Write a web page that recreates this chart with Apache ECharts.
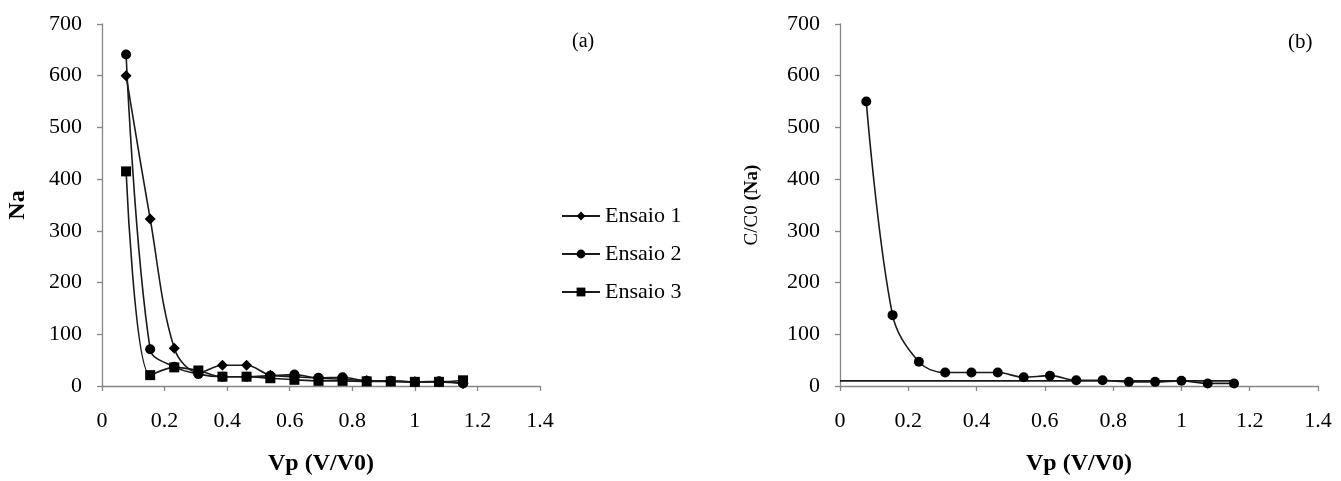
<!DOCTYPE html>
<html>
<head>
<meta charset="utf-8">
<script src="https://cdn.jsdelivr.net/npm/echarts@6/dist/echarts.min.js"></script>
<style>
html,body{margin:0;padding:0;background:#fff;}
#c{width:1341px;height:481px;}
</style>
</head>
<body>
<div id="c"></div>
<script>
// Data
const xVals = [0.077, 0.154, 0.231, 0.308, 0.385, 0.462, 0.538, 0.615, 0.692, 0.769, 0.846, 0.923, 1.0, 1.077, 1.154];
const ensaio1 = [600, 323, 73, 26, 40, 40, 21, 18, 15, 13, 10, 9, 8, 8, 5];
const ensaio2 = [641, 71, 37, 23, 18, 18, 20, 22, 16, 17, 10, 10, 8, 9, 5];
const ensaio3 = [415, 21, 36, 30, 18, 18, 15, 12, 10, 10, 9, 9, 8, 8, 11];
const ccoVals = [550, 137, 47, 26, 26, 26, 17, 20, 11, 11, 8, 8, 10, 5, 5];
const refLineX = [0, 1.154];
const refLineY = [10, 10];
const seriesNames = ['Ensaio 1', 'Ensaio 2', 'Ensaio 3'];
const xTicks = { min: 0, max: 1.4, interval: 0.2 };
const yTicks = { min: 0, max: 700, interval: 100 };

const pairs = (xs, ys) => xs.map((x, i) => [x, ys[i]]);
const FONT = 'Liberation Serif';

function xAxisDef(gridIndex) {
  return {
    type: 'value', gridIndex, min: xTicks.min, max: xTicks.max, interval: xTicks.interval,
    name: 'Vp (V/V0)', nameLocation: 'middle', nameGap: 66,
    nameTextStyle: { fontFamily: FONT, fontSize: 24, fontWeight: 'bold', color: '#000' },
    axisLine: { show: true, onZero: false, lineStyle: { color: '#868686', width: 1.3 } },
    axisTick: { show: true, length: 5, lineStyle: { color: '#868686', width: 1.3 } },
    axisLabel: { fontFamily: FONT, fontSize: 22, color: '#000', margin: 24 },
    splitLine: { show: false }
  };
}
function yAxisDef(gridIndex, name, gap, nameStyle) {
  return {
    type: 'value', gridIndex, min: yTicks.min, max: yTicks.max, interval: yTicks.interval,
    name, nameLocation: 'middle', nameGap: gap, nameRotate: 90,
    nameTextStyle: nameStyle,
    axisLine: { show: true, onZero: false, lineStyle: { color: '#868686', width: 1.3 } },
    axisTick: { show: true, length: 5, lineStyle: { color: '#868686', width: 1.3 } },
    axisLabel: { fontFamily: FONT, fontSize: 22, color: '#000', margin: 20 },
    splitLine: { show: false }
  };
}
const lineStyle = { color: '#1a1a1a', width: 1.6 };
function mkSeries(name, data, symbol, size, xi, yi) {
  return {
    name, type: 'line', xAxisIndex: xi, yAxisIndex: yi, data,
    smooth: 0.35, symbol, symbolSize: size, showSymbol: true,
    itemStyle: { color: '#000' }, lineStyle, animation: false, z: 3
  };
}

const chart = echarts.init(document.getElementById('c'), null, { renderer: 'canvas' });
chart.setOption({
  animation: false,
  backgroundColor: '#fff',
  grid: [
    { left: 102, right: 801, top: 24, bottom: 94 },
    { left: 840, right: 23, top: 24, bottom: 93 }
  ],
  xAxis: [xAxisDef(0), xAxisDef(1)],
  yAxis: [
    yAxisDef(0, 'Na', 72, { fontFamily: FONT, fontSize: 24, fontWeight: 'bold', color: '#000' }),
    yAxisDef(1, '{r|C/C0} {b|(Na)}', 78, {
      fontFamily: FONT, fontSize: 19, color: '#000',
      rich: {
        r: { fontFamily: FONT, fontSize: 19, color: '#000' },
        b: { fontFamily: FONT, fontSize: 19, fontWeight: 'bold', color: '#000' }
      }
    })
  ],
  legend: {
    data: seriesNames, orient: 'vertical', left: 556, top: 200, itemGap: 16,
    itemWidth: 38, itemHeight: 11,
    textStyle: { fontFamily: FONT, fontSize: 22, color: '#000', padding: [0, 0, 0, 0] }
  },
  graphic: [
    { type: 'text', left: 572, top: 32, style: { text: '(a)', font: '20px "Liberation Serif"', fill: '#000' } },
    { type: 'text', left: 1288, top: 32, style: { text: '(b)', font: '21px "Liberation Serif"', fill: '#000' } }
  ],
  series: [
    mkSeries(seriesNames[0], pairs(xVals, ensaio1), 'diamond', 11, 0, 0),
    mkSeries(seriesNames[1], pairs(xVals, ensaio2), 'circle', 10, 0, 0),
    mkSeries(seriesNames[2], pairs(xVals, ensaio3), 'rect', 10, 0, 0),
    mkSeries('C/C0', pairs(xVals, ccoVals), 'circle', 10, 1, 1),
    {
      name: 'ref', type: 'line', xAxisIndex: 1, yAxisIndex: 1, data: pairs(refLineX, refLineY),
      symbol: 'none', lineStyle: { color: '#1a1a1a', width: 1.6 }, z: 2
    }
  ]
});
</script>
</body>
</html>
